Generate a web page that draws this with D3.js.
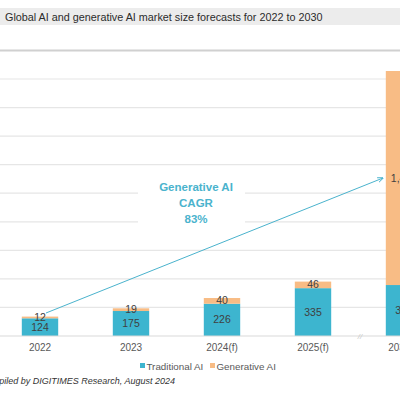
<!DOCTYPE html>
<html><head><meta charset="utf-8">
<script src="https://cdn.jsdelivr.net/npm/d3@7"></script>
<style>body{margin:0;background:#fff}svg{display:block;font-family:"Liberation Sans",Arial,sans-serif}</style>
</head><body><svg id="c" width="400" height="400"></svg>
<script>
const categories = ["2022","2023","2024(f)","2025(f)","2030(f)"];
const traditionalAI = [124,175,226,335,357];
const generativeAI = [12,19,40,46,1499];
const yTicks = [200,400,600,800,1000,1200,1400,1600,1800,2000];
const seriesNames = ["Traditional AI","Generative AI"];
const colors = ["#3db5cf","#f8bc85"];

const svg = d3.select("#c");
// title band
svg.append("rect").attr("x",0).attr("y",8).attr("width",400).attr("height",17).attr("fill","#ececec");
svg.append("text").attr("x",5).attr("y",20.5).attr("font-size",10.8).attr("fill","#2b2b2b")
  .text("Global AI and generative AI market size forecasts for 2022 to 2030");

const x = d3.scaleBand().domain(categories).range([-5.5,449.5]).paddingInner(0.6).paddingOuter(0.3);
const y = d3.scaleLinear().domain([0,1800]).range([336,79]);

// gridlines
svg.append("g").selectAll("line").data(yTicks).join("line")
  .attr("x1",0).attr("x2",400).attr("y1",d=>y(d)).attr("y2",d=>y(d))
  .attr("stroke",d=>d===2000?"#d0d0d0":"#e6e6e6").attr("stroke-width",d=>d===2000?2:1.2);

// stacked bars
const data = categories.map((c,i)=>({c,t:traditionalAI[i],g:generativeAI[i]}));
const stack = d3.stack().keys(["t","g"])(data);
svg.append("g").selectAll("g").data(stack).join("g").attr("fill",(d,i)=>colors[i])
  .selectAll("rect").data(d=>d).join("rect")
  .attr("x",d=>x(d.data.c)).attr("width",x.bandwidth())
  .attr("y",d=>y(d[1])).attr("height",d=>y(d[0])-y(d[1]));

// annotation background (hides gridlines)
svg.append("rect").attr("x",138).attr("y",178).attr("width",107).attr("height",50).attr("fill","#fff");

// baseline
svg.append("line").attr("x1",0).attr("x2",400).attr("y1",y(0)).attr("y2",y(0)).attr("stroke","#d9d9d9");

// bar labels
const fmt = d3.format(",");
stack.forEach((s,k)=>{
  svg.append("g").selectAll("text").data(s).join("text")
    .attr("x",d=>x(d.data.c)+x.bandwidth()/2).attr("y",d=>(y(d[0])+y(d[1]))/2+3.6)
    .attr("text-anchor","middle").attr("font-size",10.5).attr("fill","#404040")
    .text(d=>fmt(d[1]-d[0]));
});

// x axis labels
svg.append("g").selectAll("text").data(categories).join("text")
  .attr("x",d=>x(d)+x.bandwidth()/2).attr("y",351).attr("text-anchor","middle")
  .attr("font-size",10).attr("fill","#595959").text(d=>d);

// axis break
svg.append("text").attr("x",360).attr("y",339).attr("text-anchor","middle").attr("font-size",8)
  .attr("font-style","italic").attr("fill","#c8c8c8").text("//");

// CAGR arrow
const defs = svg.append("defs");
defs.append("marker").attr("id","ah").attr("viewBox","0 0 10 10").attr("refX",9).attr("refY",5)
  .attr("markerWidth",6).attr("markerHeight",6).attr("orient","auto")
  .append("path").attr("d","M0,1 L10,5 L0,9").attr("fill","none").attr("stroke","#4ab3cd").attr("stroke-width",1.5);
svg.append("line").attr("x1",46).attr("y1",313).attr("x2",383).attr("y2",178)
  .attr("stroke","#4ab3cd").attr("stroke-width",1).attr("marker-end","url(#ah)");
const ann = ["Generative AI","CAGR","83%"];
svg.append("g").selectAll("text").data(ann).join("text")
  .attr("x",196).attr("y",(d,i)=>191+i*16).attr("text-anchor","middle")
  .attr("font-size",11.5).attr("font-weight","bold").attr("fill","#4ab3cd").text(d=>d);

// legend
const lg = svg.append("g");
const lx = [140,210];
seriesNames.forEach((n,i)=>{
  lg.append("rect").attr("x",lx[i]).attr("y",363).attr("width",5).attr("height",5).attr("fill",colors[i]);
  lg.append("text").attr("x",lx[i]+6.5).attr("y",369.5).attr("font-size",9.8).attr("fill","#595959").text(n);
});

// source
svg.append("text").attr("x",175).attr("y",384).attr("text-anchor","end").attr("font-size",9)
  .attr("font-style","italic").attr("fill","#333").text("Source: Compiled by DIGITIMES Research, August 2024");
</script></body></html>
